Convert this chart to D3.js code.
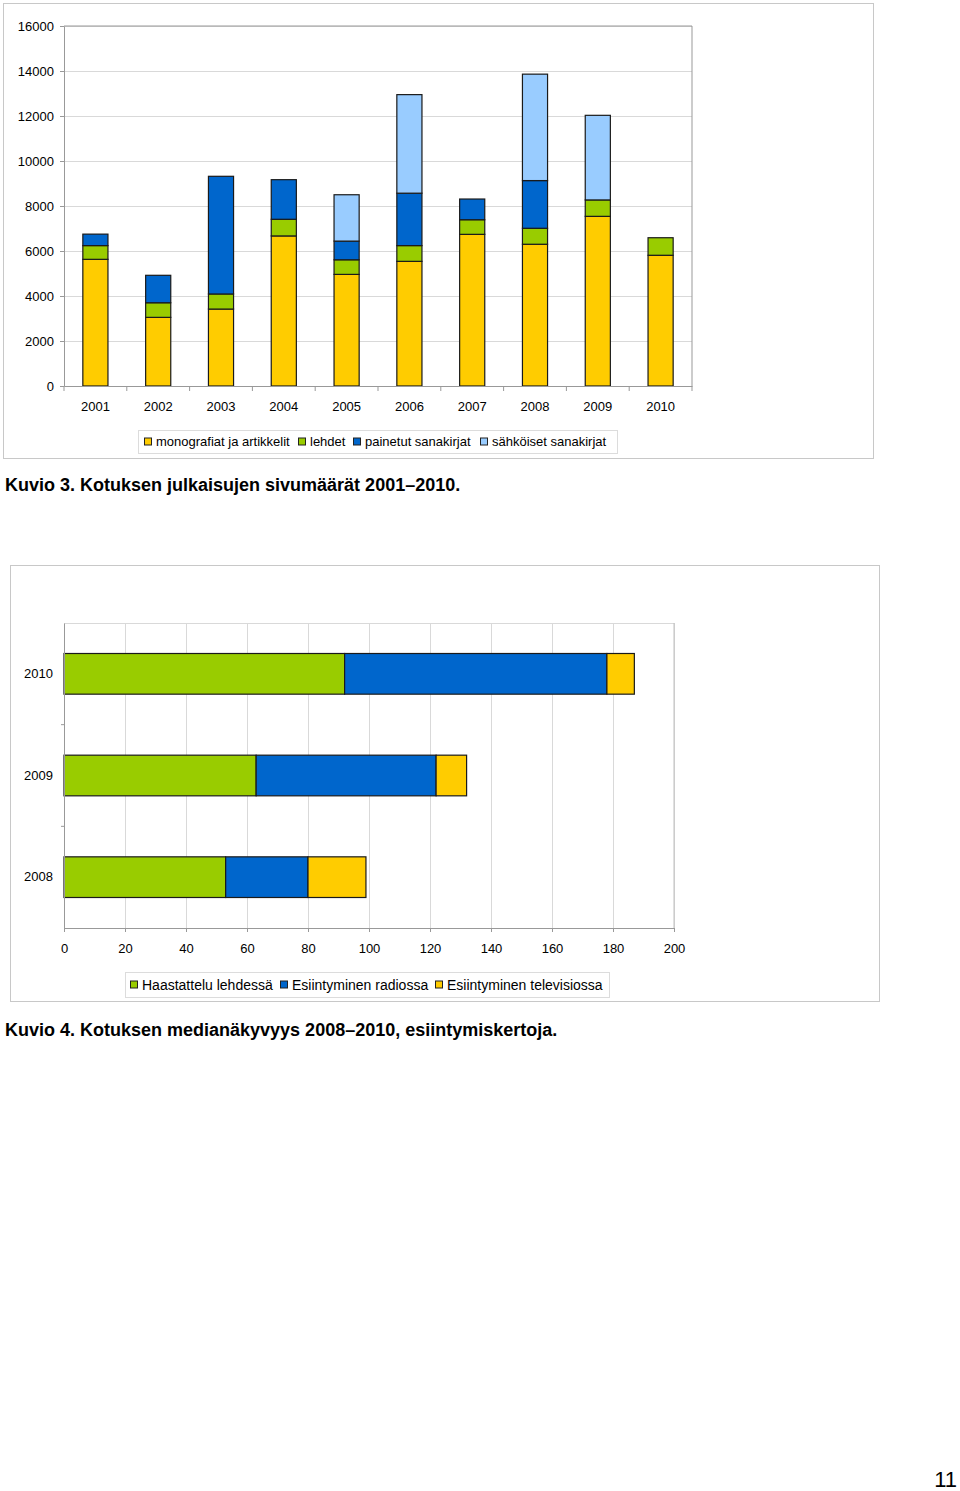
<!DOCTYPE html>
<html>
<head>
<meta charset="utf-8">
<script src="https://cdn.jsdelivr.net/npm/d3@7"></script>
<style>
  body { margin: 0; background: #fff; }
  svg { display: block; font-family: "Liberation Sans", Arial, sans-serif; }
  .grid line { stroke: #d9d9d9; }
  .grid path { display: none; }
  .axis path, .axis line { stroke: #999; }
  .axis text { fill: #000; font-size: 13px; }
</style>
</head>
<body>
<svg width="960" height="1491"></svg>
<script>
// --- Kuvio 3 data ---
var years = ["2001", "2002", "2003", "2004", "2005", "2006", "2007", "2008", "2009", "2010"];
var monografiat = [5630, 3050, 3420, 6670, 4960, 5540, 6740, 6300, 7540, 5810];
var lehdet = [610, 650, 670, 740, 650, 700, 650, 710, 730, 780];
var painetut = [510, 1220, 5230, 1760, 830, 2330, 920, 2120, 0, 0];
var sahkoiset = [0, 0, 0, 0, 2060, 4380, 0, 4730, 3760, 0];
var pageTicks = [0, 2000, 4000, 6000, 8000, 10000, 12000, 14000, 16000];
var pageSeries = ["monografiat ja artikkelit", "lehdet", "painetut sanakirjat", "sähköiset sanakirjat"];

// --- Kuvio 4 data ---
var mediaYears = ["2010", "2009", "2008"];
var haastattelu = [92, 63, 53];
var radio = [86, 59, 27];
var televisio = [9, 10, 19];
var mediaTicks = [0, 20, 40, 60, 80, 100, 120, 140, 160, 180, 200];
var mediaSeries = ["Haastattelu lehdessä", "Esiintyminen radiossa", "Esiintyminen televisiossa"];

var yellow = "#ffcc00", green = "#99cc00", blue = "#0066cc", lightBlue = "#99ccff";

var svg = d3.select("svg");

// ================= Kuvio 3 =================
svg.append("rect")
  .attr("x", 3.5).attr("y", 3.5).attr("width", 870).attr("height", 455)
  .attr("fill", "none").attr("stroke", "#c8c8c8");

var m1 = {left: 64, top: 26, width: 628, height: 360};
var g1 = svg.append("g").attr("transform", "translate(" + m1.left + "," + m1.top + ")");

var x1 = d3.scaleBand().domain(years).range([0, m1.width]).paddingInner(0.6).paddingOuter(0.3);
var y1 = d3.scaleLinear().domain([0, 16000]).range([m1.height, 0]);
var color1 = d3.scaleOrdinal().domain(pageSeries).range([yellow, green, blue, lightBlue]);

g1.append("g").attr("class", "grid")
  .call(d3.axisLeft(y1).tickValues(pageTicks).tickSize(-m1.width).tickFormat(""));

var rows1 = years.map(function(yr, i) {
  return {year: yr, "monografiat ja artikkelit": monografiat[i], "lehdet": lehdet[i],
    "painetut sanakirjat": painetut[i], "sähköiset sanakirjat": sahkoiset[i]};
});
var stack1 = d3.stack().keys(pageSeries)(rows1);

g1.selectAll(".serie")
  .data(stack1)
  .enter().append("g")
  .attr("fill", function(d) { return color1(d.key); })
  .selectAll("rect")
  .data(function(d) { return d.filter(function(p) { return p[1] > p[0]; }); })
  .enter().append("rect")
  .attr("x", function(d) { return x1(d.data.year); })
  .attr("y", function(d) { return y1(d[1]); })
  .attr("width", x1.bandwidth())
  .attr("height", function(d) { return y1(d[0]) - y1(d[1]); })
  .attr("stroke", "#1a1a1a")
  .attr("stroke-width", 1.2);

// frame top/right
g1.append("path")
  .attr("d", "M0,0H" + m1.width + "V" + m1.height)
  .attr("fill", "none").attr("stroke", "#999");

g1.append("g").attr("class", "axis")
  .call(d3.axisLeft(y1).tickValues(pageTicks).tickFormat(d3.format("d"))
    .tickSize(4).tickSizeOuter(0).tickPadding(6));

var xAxis1 = g1.append("g").attr("class", "axis")
  .attr("transform", "translate(0," + m1.height + ")")
  .call(d3.axisBottom(x1).tickSize(0).tickSizeOuter(0).tickPadding(16));
xAxis1.selectAll(".sep")
  .data(years.concat(["end"]))
  .enter().append("line")
  .attr("x1", function(d, i) { return i * (m1.width / years.length); })
  .attr("x2", function(d, i) { return i * (m1.width / years.length); })
  .attr("y1", 0).attr("y2", 5)
  .attr("stroke", "#999");

// legend
function legend(parent, names, colors, x0, y0, w, h, gaps, fontSize) {
  var lg = parent.append("g");
  lg.append("rect").attr("x", x0 + 0.5).attr("y", y0 + 0.5).attr("width", w).attr("height", h)
    .attr("fill", "#fff").attr("stroke", "#dcdcdc");
  names.forEach(function(n, i) {
    var xx = gaps[i];
    lg.append("rect").attr("x", xx + 0.5).attr("y", y0 + h / 2 - 3.5).attr("width", 7).attr("height", 7)
      .attr("fill", colors[i]).attr("stroke", "#222").attr("stroke-width", 1);
    lg.append("text").attr("x", xx + 12).attr("y", y0 + h / 2 + fontSize * 0.36)
      .attr("font-size", fontSize).text(n);
  });
}
legend(svg, pageSeries, [yellow, green, blue, lightBlue], 138, 430, 479, 23, [144, 298, 353, 480], 13);

svg.append("text").attr("x", 5).attr("y", 491)
  .attr("font-size", 18).attr("font-weight", "bold").text("Kuvio 3. Kotuksen julkaisujen sivumäärät 2001–2010.");

// ================= Kuvio 4 =================
svg.append("rect")
  .attr("x", 10.5).attr("y", 565.5).attr("width", 869).attr("height", 436)
  .attr("fill", "none").attr("stroke", "#c8c8c8");

var m2 = {left: 64, top: 623, width: 610, height: 305};
var g2 = svg.append("g").attr("transform", "translate(" + m2.left + "," + m2.top + ")");

var x2 = d3.scaleLinear().domain([0, 200]).range([0, m2.width]);
var y2 = d3.scaleBand().domain(mediaYears).range([0, m2.height]).paddingInner(0.6).paddingOuter(0.3);
var color2 = d3.scaleOrdinal().domain(mediaSeries).range([green, blue, yellow]);

g2.append("g").attr("class", "grid")
  .attr("transform", "translate(0," + m2.height + ")")
  .call(d3.axisBottom(x2).tickValues(mediaTicks).tickSize(-m2.height).tickFormat(""));

g2.append("line").attr("x1", 0).attr("x2", m2.width).attr("y1", 0.5).attr("y2", 0.5).attr("stroke", "#d9d9d9");
g2.append("line").attr("x1", m2.width).attr("x2", m2.width).attr("y1", 0).attr("y2", m2.height).attr("stroke", "#c0c0c0");

var rows2 = mediaYears.map(function(yr, i) {
  return {year: yr, "Haastattelu lehdessä": haastattelu[i], "Esiintyminen radiossa": radio[i],
    "Esiintyminen televisiossa": televisio[i]};
});
var stack2 = d3.stack().keys(mediaSeries)(rows2);

g2.selectAll(".serie")
  .data(stack2)
  .enter().append("g")
  .attr("fill", function(d) { return color2(d.key); })
  .selectAll("rect")
  .data(function(d) { return d; })
  .enter().append("rect")
  .attr("x", function(d) { return x2(d[0]); })
  .attr("y", function(d) { return y2(d.data.year); })
  .attr("width", function(d) { return x2(d[1]) - x2(d[0]); })
  .attr("height", y2.bandwidth())
  .attr("stroke", "#1a1a1a")
  .attr("stroke-width", 1.2);

var yAxis2 = g2.append("g").attr("class", "axis")
  .call(d3.axisLeft(y2).tickSize(0).tickSizeOuter(0).tickPadding(11));
yAxis2.select(".domain").attr("stroke", "#d0d0d0");
yAxis2.selectAll(".sep")
  .data(mediaYears.slice(1))
  .enter().append("line")
  .attr("x1", -3).attr("x2", 0)
  .attr("y1", function(d, i) { return (i + 1) * (m2.height / mediaYears.length); })
  .attr("y2", function(d, i) { return (i + 1) * (m2.height / mediaYears.length); })
  .attr("stroke", "#d0d0d0");

var xAxis2 = g2.append("g").attr("class", "axis")
  .attr("transform", "translate(0," + m2.height + ")")
  .call(d3.axisBottom(x2).tickValues(mediaTicks).tickSize(4).tickSizeOuter(0).tickPadding(12));
xAxis2.selectAll("path, line").attr("stroke", "#c0c0c0");

legend(svg, mediaSeries, [green, blue, yellow], 125, 972, 484, 25, [130, 280, 435], 14);

svg.append("text").attr("x", 5).attr("y", 1036)
  .attr("font-size", 18).attr("font-weight", "bold").text("Kuvio 4. Kotuksen medianäkyvyys 2008–2010, esiintymiskertoja.");

svg.append("text").attr("x", 957).attr("y", 1487).attr("text-anchor", "end")
  .attr("font-size", 22).text("11");
</script>
</body>
</html>
